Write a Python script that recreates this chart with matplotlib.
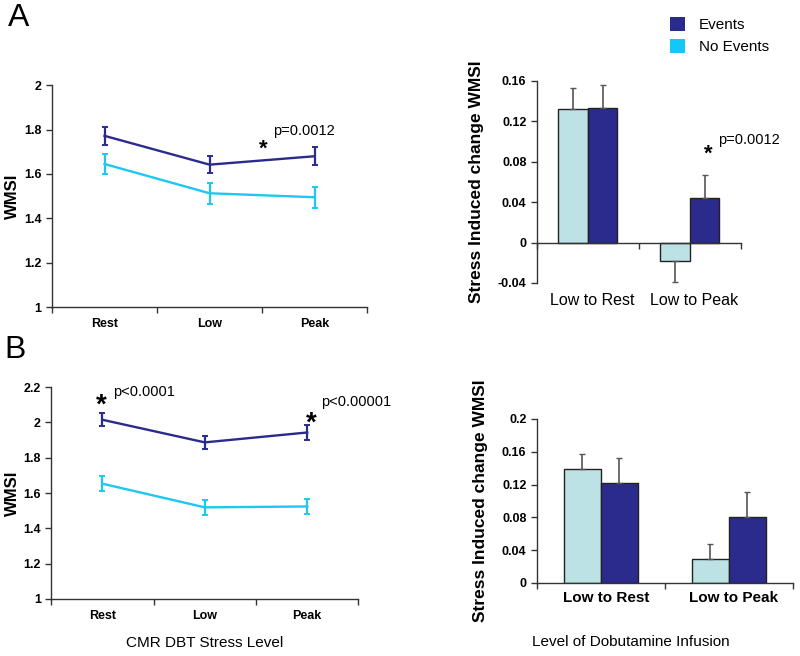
import numpy as np
import matplotlib
matplotlib.use("Agg")
import matplotlib.pyplot as plt
from matplotlib.patches import Patch
from matplotlib.ticker import FormatStrFormatter

plt.rcParams['font.family'] = ['Liberation Sans', 'DejaVu Sans']

# ---- data ----
levels = ["Rest", "Low", "Peak"]
changes = ["Low to Rest", "Low to Peak"]

# panel A, WMSI by stress level
a_events = [1.772, 1.642, 1.680]
a_events_err = [0.040, 0.038, 0.040]
a_noevents = [1.645, 1.513, 1.495]
a_noevents_err = [0.045, 0.048, 0.048]

# panel A, stress induced change
a_chg_noevents = [0.132, -0.0185]
a_chg_noevents_err = [0.021, 0.0205]
a_chg_events = [0.1336, 0.0445]
a_chg_events_err = [0.0224, 0.0225]

# panel B, WMSI by stress level
b_events = [2.015, 1.887, 1.943]
b_events_err = [0.038, 0.038, 0.040]
b_noevents = [1.653, 1.519, 1.524]
b_noevents_err = [0.041, 0.043, 0.044]

# panel B, stress induced change
b_chg_noevents = [0.139, 0.0294]
b_chg_noevents_err = [0.018, 0.0184]
b_chg_events = [0.1224, 0.0808]
b_chg_events_err = [0.0296, 0.0298]

DARK = '#2B2B8E'
CYAN = '#1CC8F0'
LIGHT = '#BCE2E6'
AXC = '#333333'


def style_axes(ax):
    for s in ['top', 'right']:
        ax.spines[s].set_visible(False)
    for s in ['left', 'bottom']:
        ax.spines[s].set_color(AXC)
        ax.spines[s].set_linewidth(1.0)
    ax.tick_params(direction='out', length=4, width=1, color=AXC)


def line_panel(ax, ev, ev_err, nev, nev_err, ylim, yticks):
    x = np.arange(len(levels)) + 0.5
    ax.errorbar(x, nev, yerr=nev_err, color=CYAN, lw=1.7, capsize=2.5,
                elinewidth=1.6, capthick=1.4)
    ax.errorbar(x, ev, yerr=ev_err, color=DARK, lw=1.7, capsize=2.5,
                elinewidth=1.6, capthick=1.4)
    ax.set_xlim(0, len(levels))
    ax.set_ylim(*ylim)
    ax.set_yticks(yticks)
    ax.yaxis.set_major_formatter(FormatStrFormatter('%g'))
    ax.set_xticks(np.arange(len(levels) + 1))
    ax.set_xticklabels([])
    ax.set_xticks(x, minor=True)
    ax.set_xticklabels(levels, minor=True, fontsize=9, fontweight='bold')
    ax.tick_params(axis='x', which='minor', length=0, pad=8)
    style_axes(ax)
    for lab in ax.get_yticklabels():
        lab.set_fontweight('bold')
        lab.set_fontsize(9)
    ax.set_ylabel('WMSI', fontsize=12, fontweight='bold')
    ax.yaxis.set_label_coords(-0.1, 0.5)


def bar_panel(ax, nev, nev_err, ev, ev_err, ylim, yticks, bold_x):
    x = np.arange(len(changes)) + 0.5
    w = 0.29
    nev = np.array(nev)
    ev = np.array(ev)
    for vals, errs, off, col in [(nev, nev_err, -w / 2, LIGHT), (ev, ev_err, w / 2, DARK)]:
        lo = [e if v < 0 else 0 for v, e in zip(vals, errs)]
        hi = [e if v >= 0 else 0 for v, e in zip(vals, errs)]
        ax.bar(x + off, vals, width=w, color=col, edgecolor='#222222', lw=1.0,
               yerr=[lo, hi], ecolor='#555555',
               error_kw=dict(elinewidth=1.2, capsize=2.5, capthick=1.0), zorder=2)
    ax.set_xlim(0, len(changes))
    ax.set_ylim(*ylim)
    ax.set_yticks(yticks)
    ax.yaxis.set_major_formatter(FormatStrFormatter('%g'))
    ax.spines['bottom'].set_position(('data', 0))
    ax.set_xticks(np.arange(len(changes) + 1))
    ax.set_xticklabels([])
    style_axes(ax)
    for lab in ax.get_yticklabels():
        lab.set_fontweight('bold')
        lab.set_fontsize(9)
    ax.set_ylabel('Stress Induced change WMSI', fontsize=12.5, fontweight='bold', labelpad=10)
    for xi, name in zip(x, changes):
        ax.text(xi + 0.04, ylim[0] - 0.05 * (ylim[1] - ylim[0]), name, ha='center', va='top',
                fontsize=11.5 if not bold_x else 11,
                fontweight='bold' if bold_x else 'normal')


fig = plt.figure(figsize=(8.0, 6.56), dpi=100)

axA1 = fig.add_axes([0.065, 0.532, 0.394, 0.338])
axA2 = fig.add_axes([0.671, 0.5686, 0.255, 0.308])
axB1 = fig.add_axes([0.064, 0.0869, 0.384, 0.323])
axB2 = fig.add_axes([0.671, 0.1113, 0.320, 0.250])

line_panel(axA1, a_events, a_events_err, a_noevents, a_noevents_err,
           (1, 2), [1, 1.2, 1.4, 1.6, 1.8, 2])
axA1.text(2.105, 1.793, 'p=0.0012', fontsize=10.5, va='center')
axA1.text(2.01, 1.71, '*', fontsize=16, fontweight='bold', ha='center', va='center')

bar_panel(axA2, a_chg_noevents, a_chg_noevents_err, a_chg_events, a_chg_events_err,
          (-0.04, 0.16), [-0.04, 0, 0.04, 0.08, 0.12, 0.16], False)
axA2.text(1.775, 0.1016, 'p=0.0012', fontsize=10.5, va='center')
axA2.text(1.686, 0.087, '*', fontsize=16, fontweight='bold', ha='center', va='center')

line_panel(axB1, b_events, b_events_err, b_noevents, b_noevents_err,
           (1, 2.2), [1, 1.2, 1.4, 1.6, 1.8, 2, 2.2])
axB1.set_xlabel('CMR DBT Stress Level', fontsize=11, labelpad=10)
axB1.text(0.606, 2.172, 'p<0.0001', fontsize=10.5, va='center')
axB1.text(0.489, 2.095, '*', fontsize=20, fontweight='bold', ha='center', va='center')
axB1.text(2.638, 2.115, 'p<0.00001', fontsize=10.5, va='center')
axB1.text(2.54, 1.995, '*', fontsize=20, fontweight='bold', ha='center', va='center')

bar_panel(axB2, b_chg_noevents, b_chg_noevents_err, b_chg_events, b_chg_events_err,
          (0, 0.2), [0, 0.04, 0.08, 0.12, 0.16, 0.2], True)
axB2.text(0.367, -0.36, 'Level of Dobutamine Infusion', transform=axB2.transAxes,
          ha='center', va='center', fontsize=11)

fig.text(0.01, 0.972, 'A', fontsize=23, va='center')
fig.text(0.006, 0.467, 'B', fontsize=23, va='center')

handles = [Patch(facecolor=DARK, edgecolor='none', label='Events'),
           Patch(facecolor='#14C8F5', edgecolor='none', label='No Events')]
fig.legend(handles=handles, loc='upper left', bbox_to_anchor=(0.82, 0.995),
           frameon=False, fontsize=11, handlelength=1.0, handleheight=1.0,
           handletextpad=0.9, labelspacing=0.45)

fig.savefig('out.png', dpi=100, facecolor='white')
